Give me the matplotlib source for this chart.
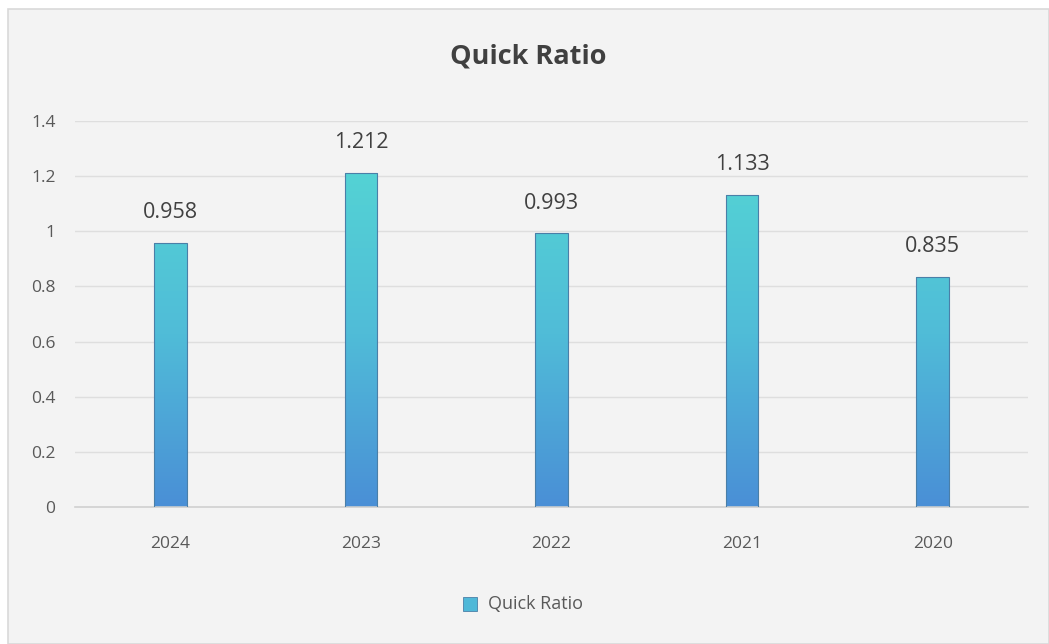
import matplotlib
matplotlib.use("Agg")
import matplotlib.pyplot as plt
import numpy as np
from matplotlib.patches import Rectangle
from matplotlib.colors import LinearSegmentedColormap

years = ["2024", "2023", "2022", "2021", "2020"]
quick_ratio = [0.958, 1.212, 0.993, 1.133, 0.835]
yticks = [0, 0.2, 0.4, 0.6, 0.8, 1.0, 1.2, 1.4]
ytick_labels = ["0", "0.2", "0.4", "0.6", "0.8", "1", "1.2", "1.4"]

plt.rcParams['font.family'] = ['Open Sans', 'DejaVu Sans']

W, H = 1049, 644
fig = plt.figure(figsize=(W/100, H/100), dpi=100, facecolor='white')

# chart area background
bg = Rectangle((8/W, 0), 1 - 8/W, 1 - 9/H, transform=fig.transFigure,
               facecolor='#f3f3f3', edgecolor='#d9d9d9', linewidth=1.2, zorder=-10)
fig.patches.append(bg)

ax = fig.add_axes([75/W, 1 - 507/H, (1028-75)/W, (507-121)/H])
ax.set_facecolor('none')
x = np.arange(len(years))
bars = ax.bar(x, quick_ratio, width=0.17, color='none', edgecolor='#4a7fa8', linewidth=0.8, zorder=3)

cmap = LinearSegmentedColormap.from_list('g', ['#4a8fd6', '#50bcd8', '#54d4d4'])
grad = np.linspace(0, 1, 256).reshape(-1, 1)
for b in bars:
    x0 = b.get_x()
    w = b.get_width()
    im = ax.imshow(grad, cmap=cmap, origin='lower', aspect='auto',
                   extent=[x0, x0 + w, 0, 1.25], zorder=2)
    im.set_clip_path(b)

ax.set_xlim(-0.5, len(years) - 0.5)
ax.set_ylim(0, 1.4)
ax.set_yticks(yticks)
ax.set_yticklabels(ytick_labels)
ax.set_xticks(x)
ax.set_xticklabels(years)
ax.tick_params(axis='both', length=0, labelsize=12.5, colors='#595959')
ax.tick_params(axis='y', pad=14)
ax.tick_params(axis='x', pad=21)
ax.grid(axis='y', color='#dedede', linewidth=1, zorder=0)
ax.set_axisbelow(True)
for s in ['top', 'right', 'left']:
    ax.spines[s].set_visible(False)
ax.spines['bottom'].set_color('#d0d0d0')
ax.spines['bottom'].set_linewidth(1.2)

for xi, v in zip(x, quick_ratio):
    ax.annotate(f"{v:.3f}", (xi, v), xytext=(0, 14), textcoords='offset points',
                ha='center', va='bottom', fontsize=15.5, color='#404040')

fig.text(528/W, 1 - 57/H, "Quick Ratio", ha='center', va='center',
         fontsize=19.5, fontweight='bold', color='#404040')

# legend
lx, ly = 463, 604
fig.patches.append(Rectangle(((lx)/W, 1 - (ly + 7)/H), 14/W, 14/H, transform=fig.transFigure,
                             facecolor='#4fb8d8', edgecolor='#4a7fa8', linewidth=0.6))
fig.text((lx + 25)/W, 1 - ly/H, "Quick Ratio", ha='left', va='center',
         fontsize=13, color='#595959')

fig.savefig("out.png", dpi=100, facecolor='white')
